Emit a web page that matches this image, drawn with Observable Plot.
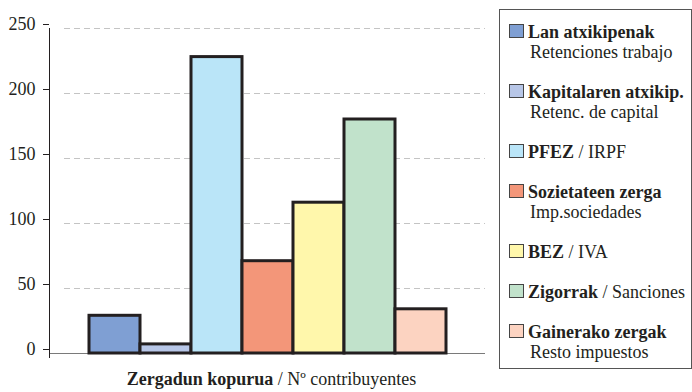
<!DOCTYPE html>
<html>
<head>
<meta charset="utf-8">
<script src="https://cdn.jsdelivr.net/npm/d3@7"></script>
<script src="https://cdn.jsdelivr.net/npm/@observablehq/plot@0.6"></script>
<style>
  html, body { margin: 0; padding: 0; background: #fff; font-family: 'Times New Roman', serif; }
  #wrap { position: relative; width: 692px; height: 392px; color: #231f20; }
  #chart { position: absolute; left: 0; top: 0; }
  #xtitle { position: absolute; left: 0; top: 369px; width: 543px; text-align: center; font-size: 18px; line-height: 20px; white-space: nowrap; }
  #legend { position: absolute; left: 499px; top: 9px; width: 182px; height: 346px; border: 1px solid #555; padding: 12px 0 0 9px; box-sizing: content-box; font-size: 18px; }
  .item { margin-bottom: 20px; }
  .line { line-height: 20px; height: 20px; white-space: nowrap; }
  .sw { display: inline-block; width: 13px; height: 12px; border: 1px solid #444; margin-right: 4px; vertical-align: baseline; }
  .sub { padding-left: 21px; }
</style>
</head>
<body>
<div id="wrap">
  <div id="chart"></div>
  <div id="xtitle" style="font-family:'Times New Roman'"><b>Zergadun kopurua</b> / Nº contribuyentes</div>
  <div id="legend" style="font-family:'Times New Roman'"></div>
</div>
<script>
// Data
const categories = ["Lan atxikipenak", "Kapitalaren atxikip.", "PFEZ", "Sozietateen zerga", "BEZ", "Zigorrak", "Gainerako zergak"];
const spanishLabels = ["Retenciones trabajo", "Retenc. de capital", "IRPF", "Imp.sociedades", "IVA", "Sanciones", "Resto impuestos"];
const sameLine = [false, false, true, false, true, true, false];
const values = [29, 7, 228, 71, 116, 180, 34];
const colors = ["#7f9fd3", "#b7c6e7", "#bae5f8", "#f39679", "#fff7ab", "#c1e2cb", "#fcd3c1"];
const yTicks = [0, 50, 100, 150, 200, 250];

const data = categories.map((c, i) => ({category: c, value: values[i]}));

const chart = Plot.plot({
  width: 500,
  height: 360,
  marginLeft: 49,
  marginRight: 15,
  marginTop: 28,
  marginBottom: 7,
  style: {fontFamily: "'Times New Roman', serif", fontSize: "18px", color: "#231f20", background: "transparent", overflow: "visible"},
  x: {domain: categories, paddingInner: 0, paddingOuter: 0.727, axis: null},
  y: {domain: [0, 250], axis: null},
  color: {domain: categories, range: colors},
  marks: [
    Plot.gridY({ticks: yTicks.filter(t => t > 0), stroke: "#c4c4c4", strokeOpacity: 1, strokeDasharray: "6,4", insetLeft: 15}),
    Plot.ruleY([0], {stroke: "#7a7a7a", strokeWidth: 1}),
    Plot.barY(data, {x: "category", y: "value", fill: "category", stroke: "#231f20", strokeWidth: 3, inset: 0}),
    Plot.frame({anchor: "left", stroke: "#231f20", insetBottom: -4}),
    Plot.axisY({ticks: yTicks, label: null, tickSize: 6, tickPadding: 8, fontSize: 18, dy: -4, stroke: "#231f20", fill: "#231f20"})
  ]
});
document.getElementById("chart").appendChild(chart);

// Legend
const legend = document.getElementById("legend");
categories.forEach((c, i) => {
  const item = document.createElement("div");
  item.className = "item";
  const l1 = document.createElement("div");
  l1.className = "line";
  const sw = document.createElement("span");
  sw.className = "sw";
  sw.style.background = colors[i];
  l1.appendChild(sw);
  const b = document.createElement("b");
  b.textContent = c;
  l1.appendChild(b);
  if (sameLine[i]) {
    l1.appendChild(document.createTextNode(" / " + spanishLabels[i]));
    item.appendChild(l1);
  } else {
    item.appendChild(l1);
    const l2 = document.createElement("div");
    l2.className = "line sub";
    l2.textContent = spanishLabels[i];
    item.appendChild(l2);
  }
  legend.appendChild(item);
});
</script>
</body>
</html>
